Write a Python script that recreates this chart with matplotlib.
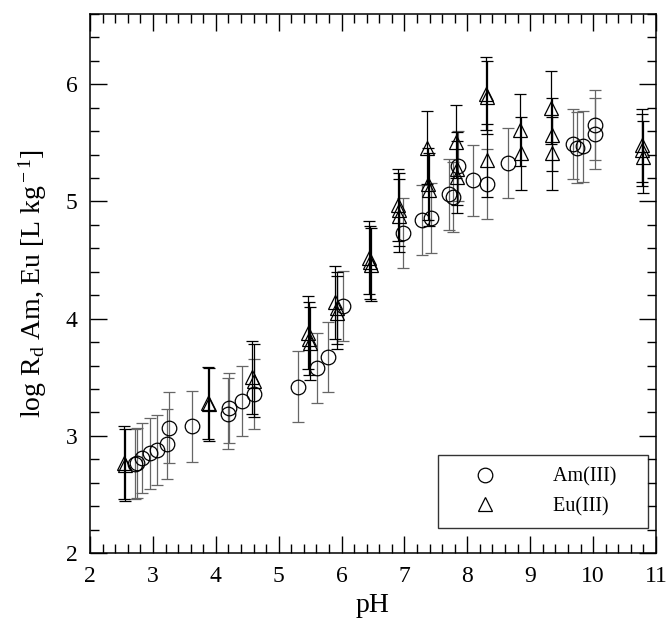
import matplotlib
matplotlib.use('Agg')
import matplotlib.pyplot as plt
from matplotlib.ticker import MultipleLocator

plt.rcParams['font.family'] = ['Liberation Serif', 'DejaVu Serif']
plt.rcParams['mathtext.fontset'] = 'custom'
plt.rcParams['mathtext.rm'] = 'Liberation Serif'
plt.rcParams['mathtext.it'] = 'Liberation Serif:italic'

# Am(III) sorption data
am_ph = [2.72, 2.75, 2.83, 2.95, 3.06, 3.22, 3.26, 3.62, 4.19, 4.21, 4.41, 4.61,
         5.31, 5.61, 5.79, 6.02, 6.98, 7.28, 7.42, 7.71, 7.77, 7.85, 8.09, 8.31,
         8.65, 9.68, 9.74, 9.84, 10.03, 10.03]
am_log = [2.76, 2.77, 2.81, 2.85, 2.88, 2.93, 3.07, 3.08, 3.19, 3.24, 3.30, 3.36,
          3.42, 3.58, 3.67, 4.11, 4.73, 4.84, 4.86, 5.06, 5.04, 5.30, 5.18, 5.15,
          5.33, 5.49, 5.46, 5.47, 5.65, 5.58]
am_err = 0.3

# Eu(III) sorption data
eu_ph = [2.54, 2.56, 3.88, 3.89, 4.58, 4.60, 5.47, 5.48, 5.49, 5.90, 5.92, 5.93,
         6.44, 6.45, 6.46, 6.90, 6.91, 6.92, 7.36, 7.38, 7.39, 7.82, 7.83, 7.84,
         8.30, 8.31, 8.32, 8.84, 8.85, 9.33, 9.34, 9.35, 10.77, 10.78, 10.79]
eu_log = [2.77, 2.75, 3.28, 3.27, 3.50, 3.47, 3.88, 3.83, 3.79, 4.14, 4.09, 4.05,
          4.52, 4.48, 4.46, 4.97, 4.93, 4.88, 5.46, 5.15, 5.10, 5.51, 5.28, 5.21,
          5.92, 5.89, 5.35, 5.61, 5.41, 5.80, 5.57, 5.41, 5.48, 5.44, 5.38]
eu_err = 0.31

fig = plt.figure(figsize=(6.67, 6.26), dpi=100)
ax = fig.add_axes([0.135, 0.1166, 0.8485, 0.861])

ax.errorbar(am_ph, am_log, yerr=am_err, fmt='o', mfc='none', mec='black',
            ms=10.5, mew=0.9, ecolor='0.4', elinewidth=0.9, capsize=4.5,
            capthick=0.9, label='Am(III)')
ax.errorbar(eu_ph, eu_log, yerr=eu_err, fmt='^', mfc='none', mec='black',
            ms=10.5, mew=0.9, ecolor='black', elinewidth=0.9, capsize=4.5,
            capthick=0.9, label='Eu(III)')

ax.set_xlim(2, 11)
ax.set_ylim(2, 6.6)
ax.xaxis.set_major_locator(MultipleLocator(1))
ax.xaxis.set_minor_locator(MultipleLocator(0.2))
ax.yaxis.set_major_locator(MultipleLocator(1))
ax.yaxis.set_minor_locator(MultipleLocator(0.2))
ax.tick_params(which='both', direction='in', top=True, right=True, width=1,
               labelsize=17)
ax.tick_params(which='major', length=12, pad=9)
ax.tick_params(which='minor', length=6.5)
for s in ax.spines.values():
    s.set_linewidth(1.1)

ax.set_xlabel('pH', fontsize=20, labelpad=5)
ax.set_ylabel(r'log R$_{\rm d}$ Am, Eu [L kg$^{\rm -1}$]', fontsize=20, labelpad=12)

handles, labels = ax.get_legend_handles_labels()
handles = [h[0] for h in handles]
labels = [l + '    ' for l in labels]
leg = ax.legend(handles, labels, loc='lower right', bbox_to_anchor=(0.986, 0.046),
                fontsize=14.5, frameon=True, fancybox=False, edgecolor='black',
                handletextpad=1.6, borderpad=0.6, labelspacing=0.5,
                borderaxespad=0, handlelength=3.5)
leg.get_frame().set_linewidth(1.0)

fig.savefig('out.png', dpi=100)
